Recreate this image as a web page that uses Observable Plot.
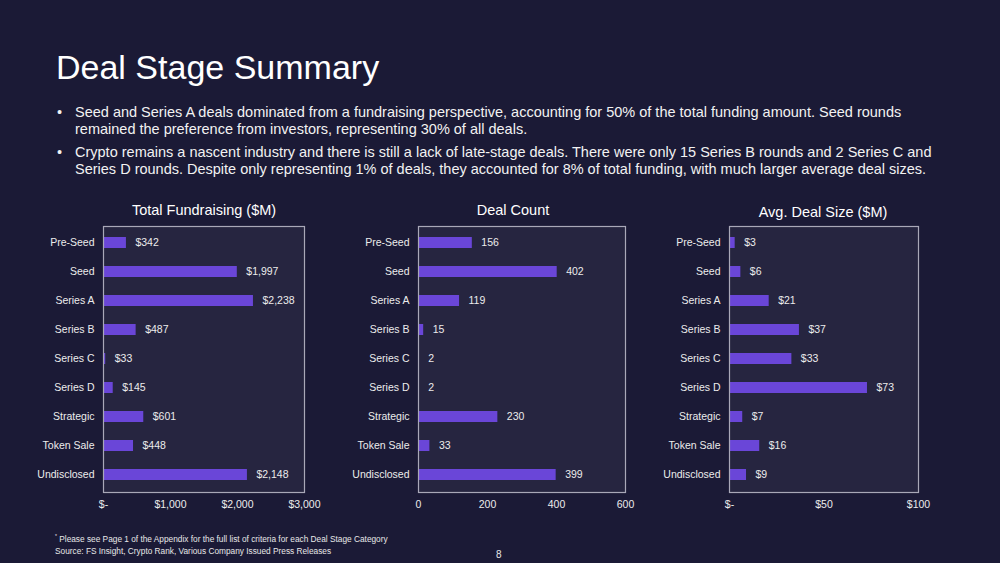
<!DOCTYPE html>
<html>
<head>
<meta charset="utf-8">
<script src="https://cdn.jsdelivr.net/npm/d3@7"></script>
<script src="https://cdn.jsdelivr.net/npm/@observablehq/plot@0.6"></script>
<style>
  html, body { margin: 0; padding: 0; }
  body { width: 1000px; height: 563px; background: #1b1a36; position: relative; overflow: hidden;
         font-family: "Liberation Sans", Arial, sans-serif; color: #ffffff; }
  .abs { position: absolute; white-space: nowrap; }
  #title { left: 56px; top: 48px; font-size: 34px; }
  .bullet { left: 75px; font-size: 14.5px; line-height: 17px; color: #f2f2f2; }
  .dot { position: absolute; left: -18px; top: 0; }
  .ptitle { font-size: 14.5px; color: #ffffff; transform: translateX(-50%); }
  .foot { font-size: 8.3px; color: #e8e8e8; left: 55px; }
  .chart { position: absolute; top: 220px; }
</style>
</head>
<body>
<div id="title" class="abs">Deal Stage Summary</div>
<div class="abs bullet" style="top:104px"><span class="dot">•</span>Seed and Series A deals dominated from a fundraising perspective, accounting for 50% of the total funding amount. Seed rounds<br>remained the preference from investors, representing 30% of all deals.</div>
<div class="abs bullet" style="top:144px"><span class="dot">•</span>Crypto remains a nascent industry and there is still a lack of late-stage deals. There were only 15 Series B rounds and 2 Series C and<br>Series D rounds. Despite only representing 1% of deals, they accounted for 8% of total funding, with much larger average deal sizes.</div>

<div class="abs ptitle" style="left:204px; top:202px">Total Fundraising ($M)</div>
<div class="abs ptitle" style="left:513px; top:202px">Deal Count</div>
<div class="abs ptitle" style="left:823px; top:204px">Avg. Deal Size ($M)</div>

<div id="c1" class="chart" style="left:0px"></div>
<div id="c2" class="chart" style="left:330px"></div>
<div id="c3" class="chart" style="left:660px"></div>

<div class="abs foot" style="top:533px"><sup style="font-size:5px">*</sup> Please see Page 1 of the Appendix for the full list of criteria for each Deal Stage Category</div>
<div class="abs foot" style="top:546px">Source: FS Insight, Crypto Rank, Various Company Issued Press Releases</div>
<div class="abs" style="left:496px; top:549px; font-size:10px; color:#e8e8e8">8</div>

<script>
const stages = ["Pre-Seed", "Seed", "Series A", "Series B", "Series C", "Series D", "Strategic", "Token Sale", "Undisclosed"];
const totalFundraising = [342, 1997, 2238, 487, 33, 145, 601, 448, 2148];
const dealCount = [156, 402, 119, 15, 2, 2, 230, 33, 399];
const avgDealSize = [3, 6, 21, 37, 33, 73, 7, 16, 9];
const fundraisingTicks = [0, 1000, 2000, 3000];
const countTicks = [0, 200, 400, 600];
const avgTicks = [0, 50, 100];

const BAR = "#6a46d8";
const FRAME_FILL = "#262540";
const FRAME_STROKE = "#a9a8b8";
const TEXT = "#ececec";
const dollar = v => v === 0 ? "$-" : "$" + d3.format(",")(v);

function panel(values, opts) {
  const data = stages.map((s, i) => ({stage: s, value: values[i]}));
  return Plot.plot({
    width: opts.width, height: 300,
    marginLeft: opts.ml, marginRight: opts.mr, marginTop: 6, marginBottom: 28,
    style: {background: "transparent", color: TEXT, fontFamily: "Liberation Sans, Arial, sans-serif", fontSize: "10.5px"},
    x: {domain: opts.domain, ticks: opts.ticks, tickFormat: opts.tickFmt, tickSize: 0, tickPadding: 8, label: null},
    y: {domain: stages, paddingInner: 0.62, paddingOuter: 0.31, tickSize: 0, tickPadding: 9, label: null},
    marks: [
      Plot.frame({fill: FRAME_FILL}),
      Plot.barX(data, {x: "value", y: "stage", fill: BAR}),
      Plot.text(data, {x: "value", y: "stage", text: d => opts.valFmt(d.value), dx: 9, textAnchor: "start", fill: TEXT, fontSize: 10.5}),
      Plot.frame({stroke: FRAME_STROKE, strokeWidth: 1.2})
    ]
  });
}

document.getElementById("c1").append(panel(totalFundraising, {width: 330, ml: 103, mr: 26, domain: [0, 3000], ticks: fundraisingTicks, tickFmt: dollar, valFmt: v => "$" + d3.format(",")(v)}));
document.getElementById("c2").append(panel(dealCount, {width: 330, ml: 88, mr: 35, domain: [0, 600], ticks: countTicks, tickFmt: d => String(d), valFmt: v => String(v)}));
document.getElementById("c3").append(panel(avgDealSize, {width: 340, ml: 69, mr: 82, domain: [0, 100], ticks: avgTicks, tickFmt: dollar, valFmt: v => "$" + v}));
</script>
</body>
</html>
